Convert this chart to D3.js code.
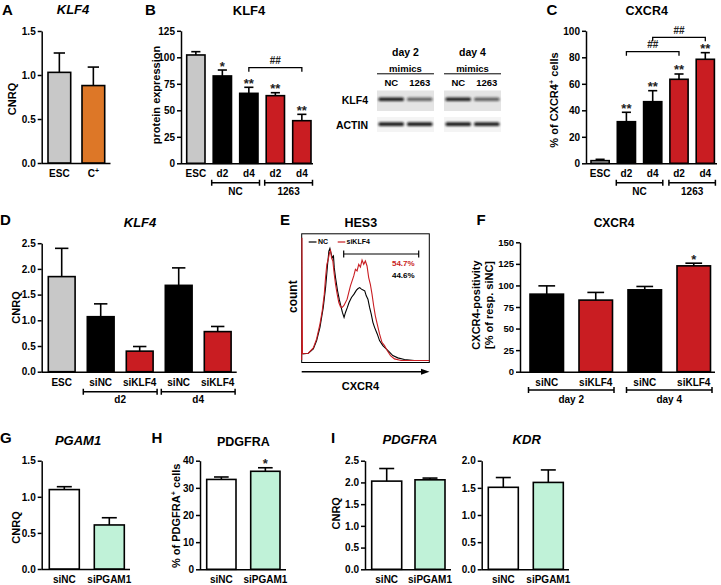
<!DOCTYPE html>
<html><head><meta charset="utf-8">
<script src="https://cdn.jsdelivr.net/npm/d3@7"></script>
<style>
body{margin:0;background:#fff}
svg{display:block}
</style>
</head><body>
<svg id="fig" width="721" height="585"></svg>
<script>
// ================= DATA =================
// A  KLF4 (CNRQ)
const aCats = ["ESC", "C+"];
const aMeans = [1.03, 0.88];
const aSems = [0.22, 0.21];
const aTicks = [0, 0.5, 1.0, 1.5];
// B  KLF4 protein expression
const bCats = ["ESC", "d2", "d4", "d2", "d4"];
const bMeans = [102.2, 82.4, 66.0, 63.8, 40.2];
const bSems = [3.1, 5.6, 5.7, 2.8, 6.0];
const bStars = ["", "*", "**", "**", "**"];
const bTicks = [0, 25, 50, 75, 100, 125];
const bGroups = ["NC", "1263"];
// Western blot
const blotDays = ["day 2", "day 4"];
const blotLanes = ["NC", "1263"];
const blotKLF4 = [0.95, 0.6, 0.92, 0.62];
const blotACTIN = [0.95, 0.95, 0.95, 0.92];
// C  CXCR4 %
const cCats = ["ESC", "d2", "d4", "d2", "d4"];
const cMeans = [2.0, 31.4, 46.5, 63.4, 78.5];
const cSems = [1.0, 7.1, 8.3, 4.0, 5.0];
const cStars = ["", "**", "**", "**", "**"];
const cTicks = [0, 20, 40, 60, 80, 100];
const cGroups = ["NC", "1263"];
// D  KLF4 (CNRQ) knockdown
const dCats = ["ESC", "siNC", "siKLF4", "siNC", "siKLF4"];
const dMeans = [1.85, 1.07, 0.40, 1.68, 0.78];
const dSems = [0.55, 0.25, 0.09, 0.34, 0.10];
const dTicks = [0, 0.5, 1.0, 1.5, 2.0, 2.5];
const dGroups = ["d2", "d4"];
// E  HES3 flow histogram: [CXCR4 channel (%), count (%)]
const eNC = [[0.5,6.7],[5.2,7.2],[9.1,10.6],[11.7,17.0],[14.3,27.3],[16.9,42.8],[18.7,58.2],[20.3,76.3],[21.3,86.6],[22.1,88.7],[22.9,85.3],[23.9,81.4],[24.9,82.7],[25.5,73.7],[26.5,66.0],[28.1,55.7],[29.4,49.2],[30.6,44.1],[31.9,38.9],[33.2,35.1],[34.3,38.9],[35.8,42.8],[37.1,46.6],[39.0,50.5],[41.0,53.1],[42.9,56.2],[44.2,57.5],[45.5,58.2],[46.8,57.0],[48.1,56.4],[49.4,55.7],[50.6,51.8],[51.9,49.2],[53.2,42.8],[54.5,37.6],[55.8,31.2],[57.1,27.3],[59.2,22.2],[61.0,17.0],[63.6,13.1],[66.2,10.6],[68.8,8.0],[71.4,5.4],[75.3,3.6],[80.5,2.3],[88.3,1.5],[100,1.5]];
const eSiKLF4 = [[0,2],[0.2,97],[0.6,7.0],[5.2,7.2],[9.1,11.3],[11.7,18.3],[14.3,29.9],[16.1,40.2],[17.7,53.1],[18.7,66.0],[19.7,76.3],[20.8,80.2],[21.8,85.3],[22.6,87.1],[23.4,81.4],[24.4,78.9],[25.5,68.6],[26.5,60.8],[27.8,53.1],[29.1,46.6],[30.4,43.3],[31.7,42.8],[33.0,44.1],[34.3,46.6],[35.6,49.2],[36.9,54.4],[38.2,59.5],[39.5,63.4],[40.8,67.3],[42.1,72.4],[43.4,71.1],[44.7,76.3],[46.0,74.2],[47.3,79.6],[48.6,76.3],[49.9,78.9],[51.2,75.0],[52.5,66.0],[53.8,60.8],[55.1,53.1],[56.4,44.1],[57.7,36.3],[59.2,29.9],[61.0,22.2],[62.9,15.7],[64.9,13.1],[67.0,9.3],[69.6,5.4],[72.7,2.8],[77.9,1.5],[100,1.5]];
const ePercents = ["54.7%", "44.6%"];
// F  CXCR4 positivity
const fCats = ["siNC", "siKLF4", "siNC", "siKLF4"];
const fMeans = [89.9, 83.0, 94.9, 122.7];
const fSems = [9.6, 8.9, 3.9, 3.1];
const fStars = ["", "", "", "*"];
const fTicks = [0, 25, 50, 75, 100, 125, 150];
const fGroups = ["day 2", "day 4"];
// G  PGAM1
const gCats = ["siNC", "siPGAM1"];
const gMeans = [1.10, 0.61];
const gSems = [0.04, 0.10];
const gTicks = [0, 0.5, 1.0, 1.5];
// H  PDGFRA %
const hCats = ["siNC", "siPGAM1"];
const hMeans = [33.1, 36.1];
const hSems = [0.9, 1.3];
const hStars = ["", "*"];
const hTicks = [0, 10, 20, 30, 40];
// I  PDGFRA / KDR
const iCats = ["siNC", "siPGAM1"];
const iPdgfraMeans = [2.03, 2.06];
const iPdgfraSems = [0.29, 0.04];
const iPdgfraTicks = [0, 0.5, 1.0, 1.5, 2.0, 2.5];
const iKdrMeans = [1.51, 1.60];
const iKdrSems = [0.18, 0.23];
const iKdrTicks = [0, 0.5, 1.0, 1.5, 2.0];

// ================= DRAWING =================
const FONT = '"Liberation Sans", Arial, Helvetica, sans-serif';
const GRAY = "#c8c8c8", ORANGE = "#dd7727", RED = "#c91d22", GREEN = "#c0f2d8", BLACK = "#000", WHITE = "#fff";
const svg = d3.select("#fig").attr("font-family", FONT).attr("font-weight", "bold");
const fmt1 = d3.format(".1f"), fmt0 = d3.format("d");

function txt(x, y, s, o = {}) {
  const t = svg.append("text").attr("x", x).attr("y", y)
    .attr("font-size", o.size || 11).attr("text-anchor", o.anchor || "middle")
    .attr("fill", o.fill || "#000").text(s);
  if (o.italic) t.attr("font-style", "italic");
  return t;
}
function vtxt(x, y, parts, size) {
  const t = svg.append("text").attr("transform", `translate(${x},${y}) rotate(-90)`)
    .attr("font-size", size).attr("text-anchor", "middle");
  parts.forEach(([s, sup], k) => {
    const sp = t.append("tspan").text(s);
    if (sup) sp.attr("dy", -4).attr("font-size", size * 0.65);
    else if (k > 0 && parts[k - 1][1]) sp.attr("dy", 4);
  });
  return t;
}
function supText(sel) {
  sel.each(function () {
    const el = d3.select(this), s = el.text();
    if (s.endsWith("+")) {
      el.text(s.slice(0, -1));
      el.append("tspan").attr("dy", "-4").attr("font-size", 7).text("+");
    }
  });
}

function barPanel(p) {
  const g = svg.append("g");
  const n = p.cats.length;
  const y = d3.scaleLinear().domain([0, p.max]).range([p.yB, p.yT]);
  const x = d3.scaleBand().domain(d3.range(n))
    .range([p.first, p.first + p.step * (n - 1) + p.bw])
    .paddingInner(1 - p.bw / p.step).paddingOuter(0);
  const bw = x.bandwidth();
  const ya = g.append("g").attr("transform", `translate(${p.x0},0)`)
    .call(d3.axisLeft(y).tickValues(p.ticks).tickFormat(p.fmt).tickSize(4).tickSizeOuter(0).tickPadding(2));
  ya.attr("font-family", FONT).attr("font-size", p.tickSize || 10).attr("font-weight", "bold");
  ya.selectAll("path,line").attr("stroke-width", 1.5);
  const xa = g.append("g").attr("transform", `translate(0,${p.yB})`)
    .call(d3.axisBottom(x).tickSize(0).tickPadding(7).tickFormat(i => p.cats[i]));
  xa.attr("font-family", FONT).attr("font-size", 10).attr("font-weight", "bold");
  xa.select(".domain").remove();
  supText(xa.selectAll("text"));
  g.append("line").attr("x1", p.x0).attr("x2", p.end).attr("y1", p.yB + 0.5).attr("y2", p.yB + 0.5)
    .attr("stroke", BLACK).attr("stroke-width", 1.6);
  const idx = d3.range(n);
  g.selectAll("rect.bar").data(idx).join("rect").attr("class", "bar")
    .attr("x", i => x(i)).attr("y", i => y(p.means[i]))
    .attr("width", bw).attr("height", i => p.yB - y(p.means[i]))
    .attr("fill", i => p.colors[i]).attr("stroke", BLACK).attr("stroke-width", 1.6);
  const cw = bw * 0.5;
  g.selectAll("line.err").data(idx).join("line").attr("class", "err")
    .attr("x1", i => x(i) + bw / 2).attr("x2", i => x(i) + bw / 2)
    .attr("y1", i => y(p.means[i])).attr("y2", i => y(p.means[i] + p.sems[i]))
    .attr("stroke", BLACK).attr("stroke-width", 1.6);
  g.selectAll("line.cap").data(idx).join("line").attr("class", "cap")
    .attr("x1", i => x(i) + bw / 2 - cw / 2).attr("x2", i => x(i) + bw / 2 + cw / 2)
    .attr("y1", i => y(p.means[i] + p.sems[i])).attr("y2", i => y(p.means[i] + p.sems[i]))
    .attr("stroke", BLACK).attr("stroke-width", 1.6);
  if (p.stars) {
    g.selectAll("text.star").data(idx.filter(i => p.stars[i])).join("text").attr("class", "star")
      .attr("x", i => x(i) + bw / 2).attr("y", i => y(p.means[i] + p.sems[i]) + 0.5)
      .attr("text-anchor", "middle").attr("font-size", 13).attr("fill", "#222")
      .text(i => p.stars[i]);
  }
  if (p.groups) {
    p.groups.forEach((lab, k) => {
      const a = p.groupIdx[k][0], b = p.groupIdx[k][1];
      const x1 = x(a) - p.gpad, x2 = x(b) + bw + p.gpad, gy = p.yB + p.gline;
      g.append("path").attr("d", `M${x1},${gy - 3}V${gy + 3}M${x1},${gy}H${x2}M${x2},${gy - 3}V${gy + 3}`)
        .attr("stroke", BLACK).attr("stroke-width", 1.5).attr("fill", "none");
      g.append("text").attr("x", (x1 + x2) / 2).attr("y", p.yB + p.glab).attr("text-anchor", "middle")
        .attr("font-size", 10).text(lab);
    });
  }
  if (p.comps) {
    p.comps.forEach(c => {
      const x1 = x(c.a) + bw / 2, x2 = x(c.b) + bw / 2;
      g.append("path").attr("d", `M${x1},${c.y + 4}V${c.y}H${x2}V${c.y + 4}`)
        .attr("stroke", BLACK).attr("stroke-width", 1.3).attr("fill", "none");
      g.append("text").attr("x", (x1 + x2) / 2).attr("y", c.y - 3.5).attr("text-anchor", "middle")
        .attr("font-size", 10).attr("fill", "#222").text(c.label);
    });
  }
  return { x, y };
}

// ---------- Panel A ----------
txt(2, 15, "A", { size: 15, anchor: "start" });
txt(73, 13.5, "KLF4", { size: 13, italic: true });
vtxt(16, 99, [["CNRQ"]], 11);
barPanel({ x0: 41.7, yB: 163, yT: 31, max: 1.5, ticks: aTicks, fmt: fmt1, cats: aCats, means: aMeans, sems: aSems,
  colors: [GRAY, ORANGE], first: 48, step: 34, bw: 22.7, end: 110.5 });

// ---------- Panel B ----------
txt(145, 15, "B", { size: 15, anchor: "start" });
txt(249, 15, "KLF4", { size: 13 });
vtxt(160, 95, [["protein expression"]], 11);
barPanel({ x0: 181, yB: 163.3, yT: 30.8, max: 125, ticks: bTicks, fmt: fmt0, cats: bCats, means: bMeans, sems: bSems,
  stars: bStars, colors: [GRAY, BLACK, BLACK, RED, RED], first: 186.7, step: 26.5, bw: 18.3, end: 313,
  groups: bGroups, groupIdx: [[1, 2], [3, 4]], gpad: 1.5, gline: 19.4, glab: 31.7,
  comps: [{ a: 2, b: 4, label: "##", y: 67.7 }] });

// ---------- Western blot ----------
(function () {
  const days = d3.scaleBand().domain(blotDays).range([377, 501]).paddingInner(0.15);
  const lanes = d3.scaleBand().domain(blotLanes).range([0, days.bandwidth()]);
  const defs = svg.append("defs");
  defs.append("filter").attr("id", "blur").attr("x", "-20%").attr("y", "-100%").attr("width", "140%").attr("height", "300%")
    .append("feGaussianBlur").attr("stdDeviation", 0.9);
  blotDays.forEach((d, di) => {
    const x0 = days(d), w = days.bandwidth(), cx = x0 + w / 2;
    txt(cx, 56, d, { size: 10.5 });
    txt(cx, 72, "mimics", { size: 9.5 });
    svg.append("line").attr("x1", x0).attr("x2", x0 + w).attr("y1", 73.8).attr("y2", 73.8).attr("stroke", "#000").attr("stroke-width", 1);
    blotLanes.forEach(l => txt(x0 + lanes(l) + lanes.bandwidth() / 2, 85.5, l, { size: 9.5 }));
    svg.append("rect").attr("x", x0).attr("y", 90.5).attr("width", w).attr("height", 20.5).attr("fill", "#e4e4e4");
    svg.append("rect").attr("x", x0).attr("y", 117).attr("width", w).attr("height", 15).attr("fill", "#f4f4f4");
    blotLanes.forEach((l, li) => {
      const k = di * 2 + li, lx = x0 + lanes(l) + 1.5, lw = lanes.bandwidth() - 3;
      svg.append("rect").attr("x", lx).attr("y", 97.5).attr("width", lw).attr("height", 3.6).attr("rx", 1.5)
        .attr("fill", "#111").attr("opacity", blotKLF4[k]).attr("filter", "url(#blur)");
      svg.append("rect").attr("x", lx).attr("y", 122.3).attr("width", lw).attr("height", 3.8).attr("rx", 1.5)
        .attr("fill", "#111").attr("opacity", blotACTIN[k]).attr("filter", "url(#blur)");
    });
  });
  txt(368, 104, "KLF4", { size: 10.5, anchor: "end" });
  txt(368, 129, "ACTIN", { size: 10.5, anchor: "end" });
})();

// ---------- Panel C ----------
txt(546.5, 15, "C", { size: 15, anchor: "start" });
txt(646.7, 15, "CXCR4", { size: 12.5 });
vtxt(558, 100, [["% of CXCR4"], ["+", true], [" cells"]], 11);
barPanel({ x0: 586, yB: 163.3, yT: 30.8, max: 100, ticks: cTicks, fmt: fmt0, cats: cCats, means: cMeans, sems: cSems,
  stars: cStars, colors: [GRAY, BLACK, BLACK, RED, RED], first: 591, step: 26.3, bw: 18.2, end: 717,
  groups: cGroups, groupIdx: [[1, 2], [3, 4]], gpad: 1, gline: 19.4, glab: 31.7,
  comps: [{ a: 1, b: 3, label: "##", y: 51.7 }, { a: 2, b: 4, label: "##", y: 37.3 }] });

// ---------- Panel D ----------
txt(0, 225, "D", { size: 15, anchor: "start" });
txt(140, 227.3, "KLF4", { size: 13, italic: true });
vtxt(19.5, 307.5, [["CNRQ"]], 11);
barPanel({ x0: 41.7, yB: 371.7, yT: 243.2, max: 2.5, ticks: dTicks, fmt: fmt1, cats: dCats, means: dMeans, sems: dSems,
  colors: [GRAY, BLACK, RED, BLACK, RED], first: 48.3, step: 39, bw: 26.8, end: 236.7,
  groups: dGroups, groupIdx: [[1, 2], [3, 4]], gpad: 4, gline: 20, glab: 31.3 });

// ---------- Panel E ----------
(function () {
  txt(280, 225, "E", { size: 15, anchor: "start" });
  txt(360.8, 226.7, "HES3", { size: 12.5 });
  vtxt(296.5, 296.7, [["count"]], 12);
  const ex = d3.scaleLinear().domain([0, 100]).range([301.7, 429.3]);
  const ey = d3.scaleLinear().domain([0, 100]).range([362.5, 233.8]);
  svg.append("rect").attr("x", 301.7).attr("y", 233.8).attr("width", 127.6).attr("height", 128.7)
    .attr("fill", "none").attr("stroke", "#000").attr("stroke-width", 1);
  const line = d3.line().x(d => ex(d[0])).y(d => ey(d[1]));
  svg.append("path").attr("d", line(eNC)).attr("fill", "none").attr("stroke", "#000").attr("stroke-width", 1.1);
  svg.append("path").attr("d", line(eSiKLF4)).attr("fill", "none").attr("stroke", RED).attr("stroke-width", 1.1);
  svg.append("line").attr("x1", 308.7).attr("x2", 316.5).attr("y1", 242).attr("y2", 242).attr("stroke", "#000").attr("stroke-width", 1.2);
  txt(318, 244.3, "NC", { size: 7, anchor: "start" });
  svg.append("line").attr("x1", 337.7).attr("x2", 345.3).attr("y1", 242).attr("y2", 242).attr("stroke", RED).attr("stroke-width", 1.2);
  txt(346.5, 244.3, "siKLF4", { size: 7, anchor: "start" });
  svg.append("path").attr("d", "M343.7,250.5V257.5M343.7,254H418.7M418.7,250.5V257.5")
    .attr("stroke", "#000").attr("stroke-width", 1.2).attr("fill", "none");
  txt(403.3, 265.5, ePercents[0], { size: 8, fill: RED });
  txt(403.3, 277.5, ePercents[1], { size: 8 });
  svg.append("line").attr("x1", 301.7).attr("x2", 424).attr("y1", 371.7).attr("y2", 371.7).attr("stroke", "#000").attr("stroke-width", 1.4);
  svg.append("path").attr("d", "M429.5,371.7L421,368.7V374.7Z").attr("fill", "#000");
  txt(360.5, 390, "CXCR4", { size: 11 });
})();

// ---------- Panel F ----------
txt(476.5, 225, "F", { size: 15, anchor: "start" });
txt(614, 227, "CXCR4", { size: 12 });
vtxt(480, 305, [["CXCR4-positivity"]], 11);
vtxt(493, 305, [["[% of resp. siNC]"]], 11);
barPanel({ x0: 520, yB: 371.7, yT: 242.3, max: 150, ticks: fTicks, fmt: fmt0, cats: fCats, means: fMeans, sems: fSems,
  stars: fStars, colors: [BLACK, RED, BLACK, RED], first: 530, step: 49, bw: 33.5, end: 715, tickSize: 9.5,
  groups: fGroups, groupIdx: [[0, 1], [2, 3]], gpad: 1.5, gline: 18.3, glab: 31.3 });

// ---------- Panel G ----------
txt(0, 443, "G", { size: 15, anchor: "start" });
txt(78, 445, "PGAM1", { size: 13, italic: true });
vtxt(19.5, 527.5, [["CNRQ"]], 11);
barPanel({ x0: 41.7, yB: 569, yT: 460.7, max: 1.5, ticks: gTicks, fmt: fmt1, cats: gCats, means: gMeans, sems: gSems,
  colors: [WHITE, GREEN], first: 49.3, step: 45, bw: 30, end: 130 });

// ---------- Panel H ----------
txt(151.5, 443, "H", { size: 15, anchor: "start" });
txt(243.3, 445.7, "PDGFRA", { size: 12.5 });
vtxt(180, 515.8, [["% of PDGFRA"], ["+", true], [" cells"]], 11);
barPanel({ x0: 200, yB: 569.3, yT: 460.7, max: 40, ticks: hTicks, fmt: fmt0, cats: hCats, means: hMeans, sems: hSems,
  stars: hStars, colors: [WHITE, GREEN], first: 206.7, step: 44, bw: 29.3, end: 286 });

// ---------- Panel I ----------
txt(331, 443, "I", { size: 15, anchor: "start" });
txt(410, 444.3, "PDGFRA", { size: 13, italic: true });
txt(526.7, 444.3, "KDR", { size: 13, italic: true });
vtxt(340, 513.3, [["CNRQ"]], 11);
barPanel({ x0: 365, yB: 569.3, yT: 460.7, max: 2.5, ticks: iPdgfraTicks, fmt: fmt1, cats: iCats, means: iPdgfraMeans, sems: iPdgfraSems,
  colors: [WHITE, GREEN], first: 371.7, step: 43.3, bw: 30, end: 451 });
barPanel({ x0: 481.7, yB: 569.3, yT: 460.7, max: 2.0, ticks: iKdrTicks, fmt: fmt1, cats: iCats, means: iKdrMeans, sems: iKdrSems,
  colors: [WHITE, GREEN], first: 488.3, step: 45, bw: 30, end: 569 });
</script>
</body></html>
